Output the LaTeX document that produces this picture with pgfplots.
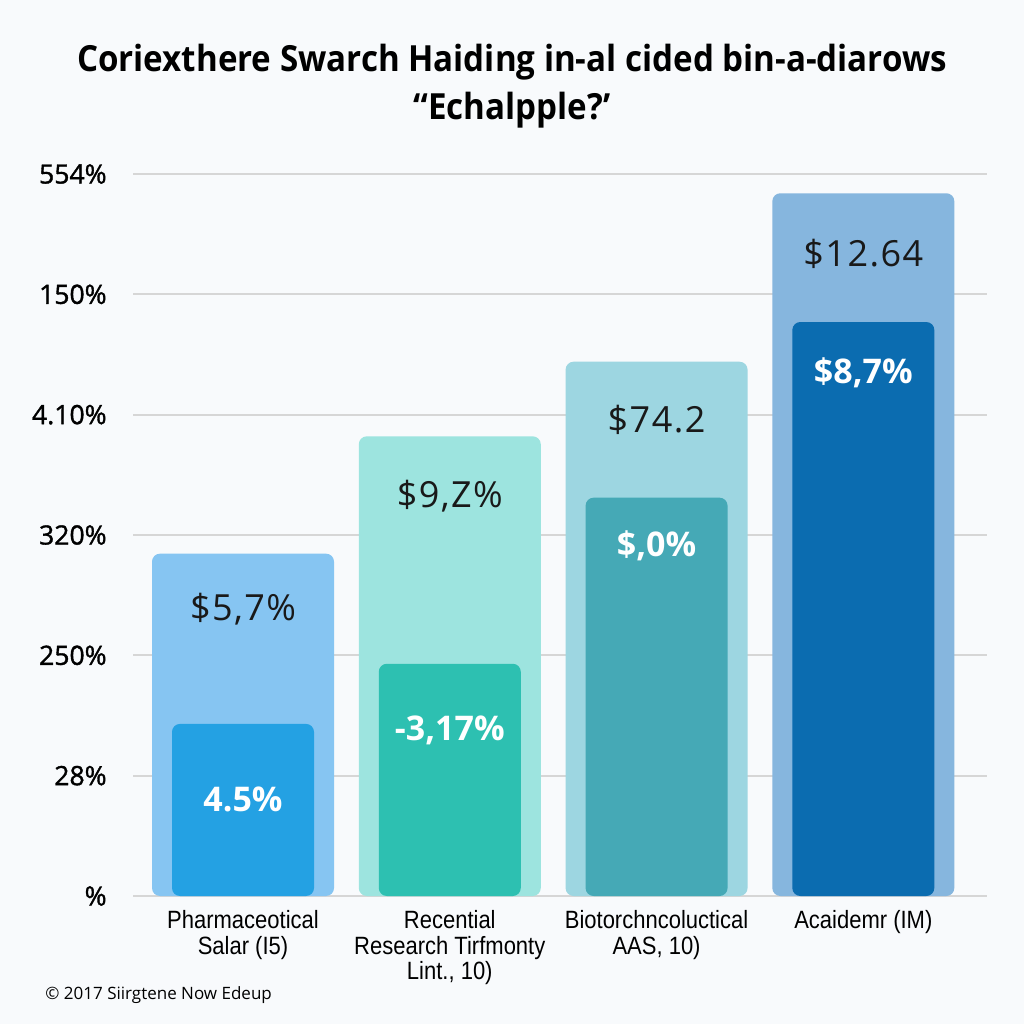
\documentclass[border=0pt]{standalone}
\usepackage{fontspec}
\setmainfont{Open Sans}
\newfontfamily\catfont[FakeStretch=0.88]{Liberation Sans}
\newfontfamily\titlefont[FakeStretch=0.92]{Open Sans}
\newfontfamily\tickfont[FakeBold=1.3]{Open Sans}
\newfontfamily\valfont[LetterSpace=4]{Open Sans}
\usepackage{pgfplots}
\pgfplotsset{compat=1.18}
\definecolor{bgc}{HTML}{F8FAFC}
\definecolor{gridc}{HTML}{D6D6D6}
\definecolor{cAb}{HTML}{86C5F2}
\definecolor{cAf}{HTML}{24A1E3}
\definecolor{cBb}{HTML}{9DE4DF}
\definecolor{cBf}{HTML}{2DC0B1}
\definecolor{cCb}{HTML}{9DD6E1}
\definecolor{cCf}{HTML}{45A9B6}
\definecolor{cDb}{HTML}{86B6DE}
\definecolor{cDf}{HTML}{0B6CB0}
\begin{document}
\begin{tikzpicture}[x=1pt,y=1pt]
\fill[bgc] (0,0) rectangle (512,512);
\begin{axis}[
  at={(66.5pt,64pt)}, anchor=south west,
  scale only axis, width=427pt, height=361pt,
  xmin=-0.532, xmax=3.598, ymin=0, ymax=6,
  axis line style={draw=none},
  major tick length=0pt,
  ytick={0,1,2,3,4,5,6},
  yticklabels={\%, 28\%, 250\%, 320\%, 4.10\%, 150\%, 554\%},
  yticklabel style={anchor=east, inner sep=0pt, xshift=-13pt, font=\tickfont\fontsize{13.3}{15}\selectfont},
  xtick={0,1,2,3},
  xticklabels={{Pharmaceotical\\Salar (I5)}, {Recential\\Research Tirfmonty\\Lint., 10)}, {Biotorchncoluctical\\AAS, 10)}, {Acaidemr (IM)}},
  xticklabel style={align=center, anchor=north, inner sep=0pt, yshift=-7pt, font=\catfont\fontsize{12.5}{12.75}\selectfont},
  ymajorgrids, grid style={gridc, line width=1pt},
  clip=false,
]
\addplot[ybar, bar width=91pt, bar shift=0pt, fill=cAb, draw=none, rounded corners=4pt] coordinates {(0,2.845)};
\addplot[ybar, bar width=71pt, bar shift=0pt, fill=cAf, draw=none, rounded corners=4pt] coordinates {(0,1.43)};
\addplot[ybar, bar width=91pt, bar shift=0pt, fill=cBb, draw=none, rounded corners=4pt] coordinates {(1,3.82)};
\addplot[ybar, bar width=71pt, bar shift=0pt, fill=cBf, draw=none, rounded corners=4pt] coordinates {(1,1.93)};
\addplot[ybar, bar width=91pt, bar shift=0pt, fill=cCb, draw=none, rounded corners=4pt] coordinates {(2,4.44)};
\addplot[ybar, bar width=71pt, bar shift=0pt, fill=cCf, draw=none, rounded corners=4pt] coordinates {(2,3.31)};
\addplot[ybar, bar width=91pt, bar shift=0pt, fill=cDb, draw=none, rounded corners=4pt] coordinates {(3,5.84)};
\addplot[ybar, bar width=71pt, bar shift=0pt, fill=cDf, draw=none, rounded corners=4pt] coordinates {(3,4.77)};
\tikzset{bl/.style={font=\valfont\fontsize{18}{21}\selectfont, text=black!90}, fl/.style={font=\bfseries\fontsize{17}{20}\selectfont, text=white}}
\node[bl] at (axis cs:0,2.38) {\$5,7\%};
\node[bl] at (axis cs:1,3.32) {\$9,Z\%};
\node[bl] at (axis cs:2,3.96) {\$74.2};
\node[bl] at (axis cs:3,5.34) {\$12.64};
\node[fl] at (axis cs:0,0.80) {4.5\%};
\node[fl] at (axis cs:1,1.38) {-3,17\%};
\node[fl] at (axis cs:2,2.91) {\$,0\%};
\node[fl] at (axis cs:3,4.35) {\$8,7\%};
\end{axis}
\node[font=\titlefont\bfseries\fontsize{18}{21}\selectfont] at (256,481) {Coriexthere Swarch Haiding in-al cided bin-a-diarows};
\node[font=\titlefont\bfseries\fontsize{18}{21}\selectfont] at (256,457) {“Echalpple?’};
\node[anchor=west, inner sep=0pt, font=\fontsize{8.5}{10}\selectfont] at (22.5,14.5) {© 2017 Siirgtene Now Edeup};
\end{tikzpicture}
\end{document}
